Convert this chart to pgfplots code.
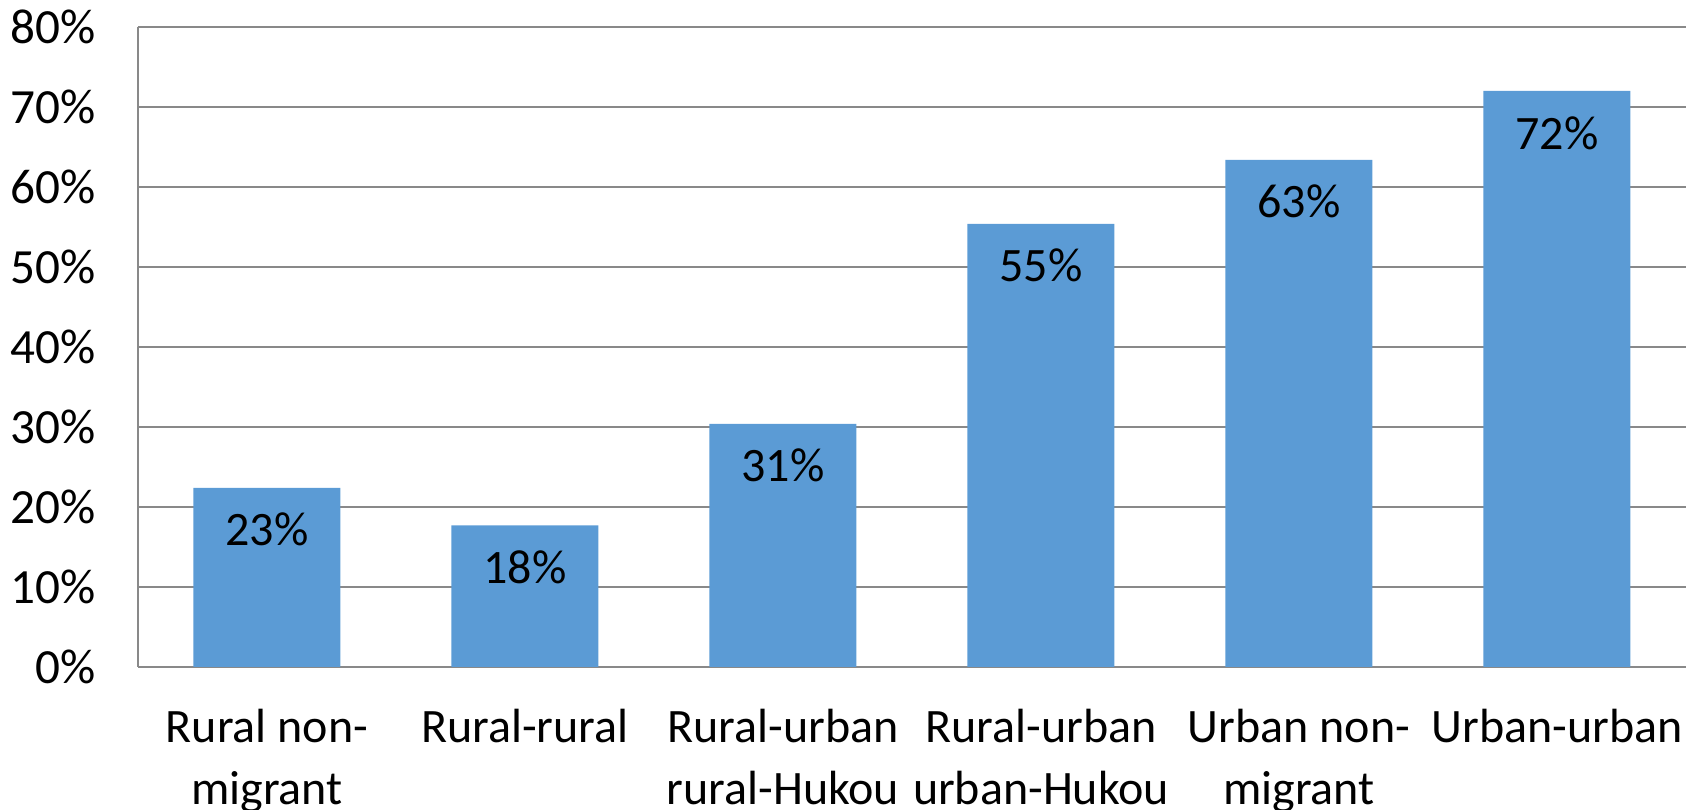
\documentclass[border=0pt]{standalone}
\usepackage{fontspec}
\setmainfont{Carlito}
\usepackage{pgfplots}
\pgfplotsset{compat=1.18}
\definecolor{barblue}{HTML}{5B9BD5}
\definecolor{gridgray}{HTML}{898989}
\begin{document}
\begin{tikzpicture}
\useasboundingbox (-34.5pt,-35.75pt) rectangle (389.5pt,166.75pt);
\begin{axis}[
  scale only axis,
  width=387pt, height=160pt,
  xmin=-0.5, xmax=5.5,
  ymin=0, ymax=80,
  ytick={0,10,...,80},
  xtick={0,1,2,3,4,5},
  xticklabels={{Rural non-\\migrant},{Rural-rural},{Rural-urban\\rural-Hukou},{Rural-urban\\urban-Hukou},{Urban non-\\migrant},{Urban-urban}},
  xticklabel style={align=center, font=\fontsize{12}{15.4}\selectfont, yshift=-7pt},
  yticklabel={\pgfmathprintnumber{\tick}\%},
  yticklabel style={font=\fontsize{12.3}{14}\selectfont, xshift=-7pt},
  /pgf/number format/assume math mode=true,
  axis x line=bottom, axis y line=left,
  axis line style={gridgray, line width=0.5pt, -},
  major tick length=0pt,
  ymajorgrids,
  major grid style={gridgray, line width=0.5pt},
  clip=false,
]
\addplot[ybar, bar width=36.75pt, fill=barblue, draw=none,
  point meta=explicit symbolic,
  nodes near coords={\pgfplotspointmeta\%},
  every node near coord/.append style={anchor=center, yshift=-10.5pt, font=\fontsize{12}{14}\selectfont, text=black}]
  coordinates {(0,22.4) [23] (1,17.7) [18] (2,30.4) [31] (3,55.4) [55] (4,63.4) [63] (5,72.0) [72]};
\end{axis}
\end{tikzpicture}
\end{document}
